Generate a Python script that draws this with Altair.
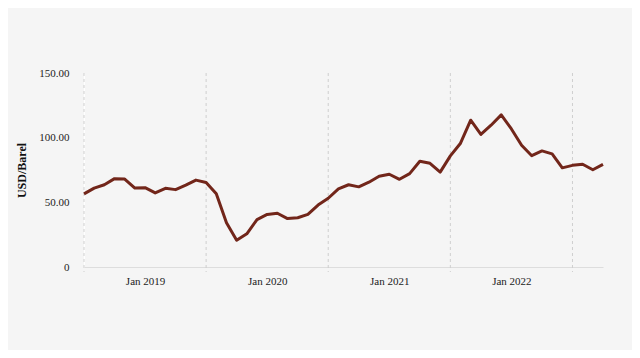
import altair as alt
import pandas as pd

months = [f"{y}-{m:02d}" for y in range(2019, 2024) for m in range(1, 13)][:52]
prices = [
    56.55, 61.01, 63.60, 68.31, 68.00, 61.00, 61.32, 57.27, 60.84, 59.82, 63.26, 67.18,
    65.38, 56.61, 34.23, 20.66, 25.67, 36.68, 40.63, 41.56, 37.43, 38.07, 40.67, 47.89,
    53.17, 60.36, 63.59, 61.96, 65.56, 70.23, 71.73, 67.80, 72.20, 81.77, 80.16, 73.36,
    85.89, 95.72, 113.50, 102.51, 109.61, 117.62, 106.73, 94.17, 86.07, 89.78, 87.50, 76.66,
    78.60, 79.48, 75.20, 79.34,
]
year_starts = [0, 12, 24, 36, 48]
label_positions = [6, 18, 30, 42]

df = pd.DataFrame({"idx": list(range(len(prices))), "month": months, "price": prices})
grid_df = pd.DataFrame({"idx": year_starts})

W, H = 519, 194
FONT = "Liberation Serif"

xscale = alt.Scale(domain=[0, 51], nice=False, zero=False)
yscale = alt.Scale(domain=[0, 150], nice=False)

xaxis = alt.Axis(
    values=label_positions,
    labelExpr="'Jan ' + (2019 + (datum.value - 6) / 12)",
    ticks=False,
    grid=False,
    domainColor="#dddddd",
    labelFont=FONT,
    labelFontSize=11,
    labelColor="#222222",
    labelPadding=8,
)

grid = alt.Chart(grid_df).mark_rule(color="#cfcfcf", strokeDash=[3, 3], strokeWidth=1).encode(
    x=alt.X("idx:Q", scale=xscale, axis=xaxis, title=None),
    y=alt.value(0),
    y2=alt.value(H + 5),
)

line = alt.Chart(df).mark_line(color="#72261a", strokeWidth=3, strokeJoin="round").encode(
    x=alt.X("idx:Q", scale=xscale, title=None, axis=xaxis),
    y=alt.Y(
        "price:Q",
        scale=yscale,
        title="USD/Barel",
        axis=alt.Axis(
            values=[0, 50, 100, 150],
            labelExpr="datum.value == 0 ? '0' : format(datum.value, '.2f')",
            ticks=False,
            grid=False,
            domainColor="#ffffff",
            labelFont=FONT,
            labelFontSize=11,
            labelColor="#222222",
            labelPadding=15,
            titleFont=FONT,
            titleFontSize=12,
            titleFontWeight="bold",
            titleColor="#111111",
            titlePadding=10,
        ),
    ),
)

chart = (
    alt.layer(grid, line)
    .properties(
        width=W,
        height=H,
        background="#f5f5f5",
        padding={"left": 76, "top": 65, "right": 29, "bottom": 83},
        autosize=alt.AutoSizeParams(type="none"),
    )
    .configure_view(stroke=None)
)

chart.save("out.html", embed_options={"renderer": "svg", "actions": False})
